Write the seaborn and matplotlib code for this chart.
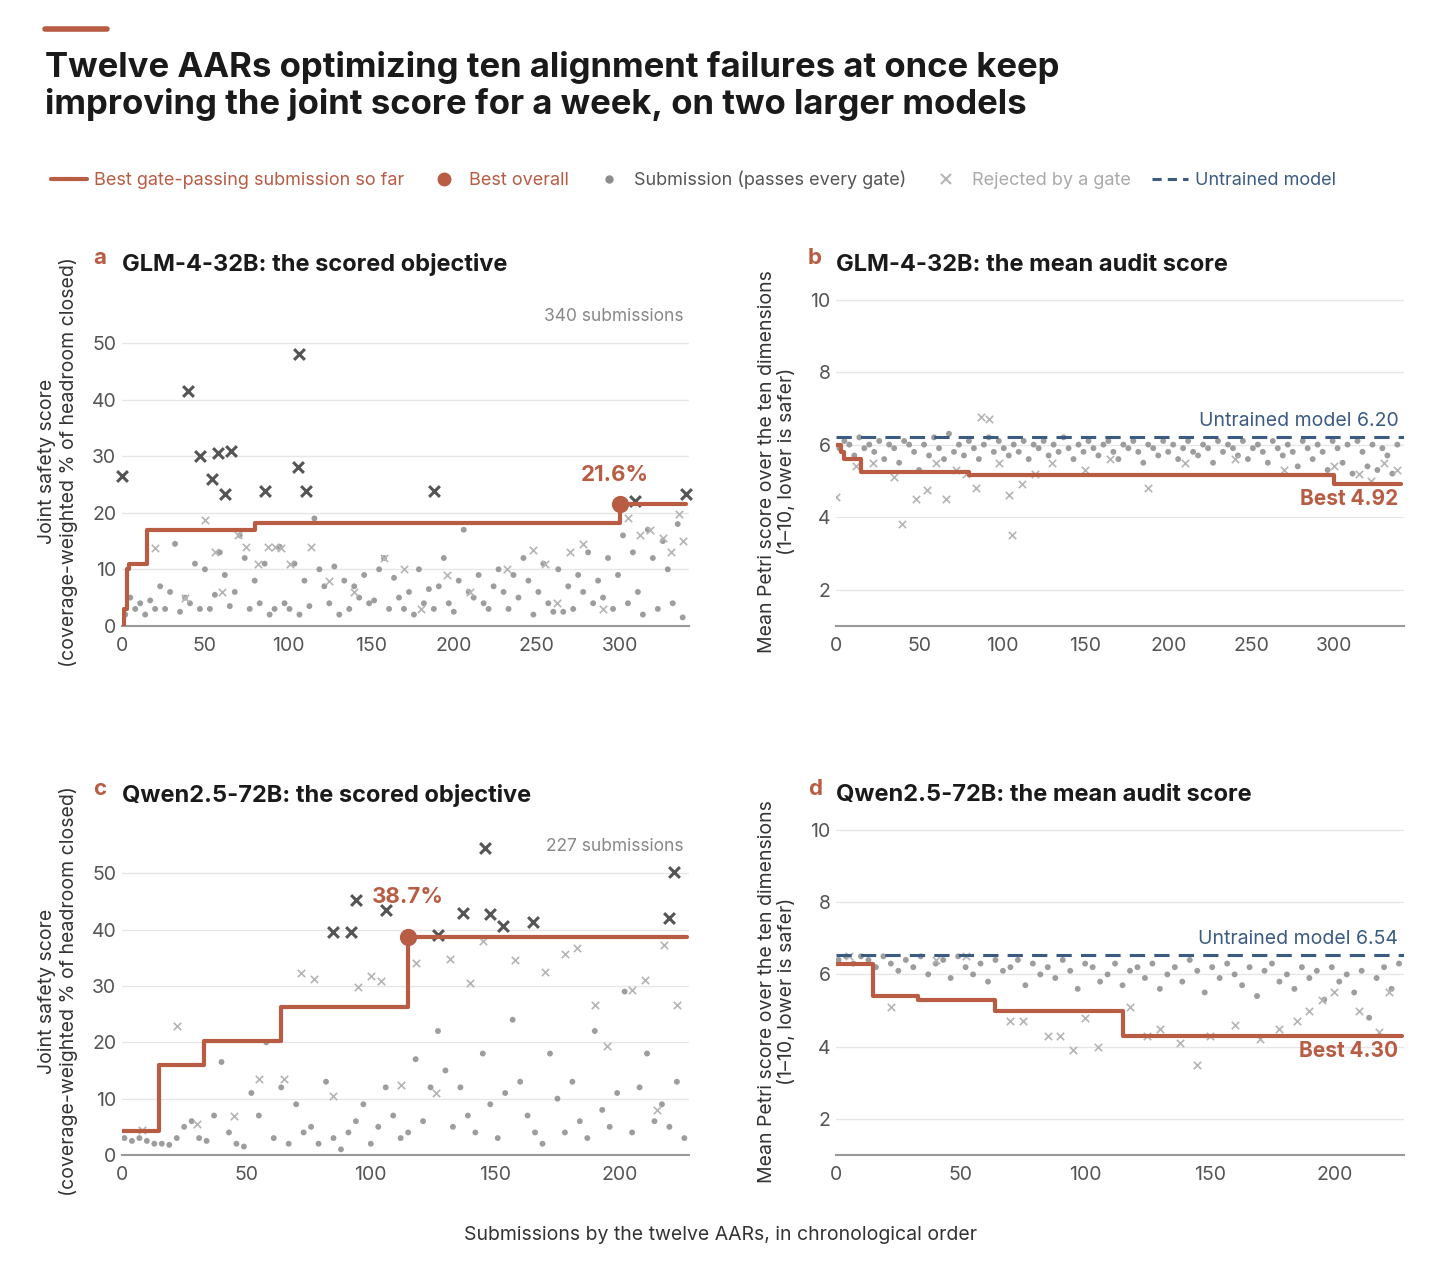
import numpy as np
import pandas as pd
import matplotlib.pyplot as plt
import seaborn as sns
from matplotlib.lines import Line2D

sns.set_theme(style="white")
plt.rcParams['font.family'] = ['Inter', 'DejaVu Sans']

RED = "#b85c44"; BLUE = "#3b5b82"; DOT = "#8c8c8c"; LX = "#b5b5b5"; DX = "#555555"

# ---------------- data ----------------
a_step_x = [0, 1, 3, 4, 15, 80, 300, 340]
a_step_y = [0, 3, 10, 11, 17, 18.2, 21.6, 21.6]
b_step_x = [0, 3, 5, 15, 80, 300, 340]
b_step_y = [6.0, 5.8, 5.6, 5.25, 5.15, 4.92, 4.92]
c_step_x = [0, 15, 33, 64, 115, 227]
c_step_y = [4.2, 16.0, 20.2, 26.2, 38.7, 38.7]
d_step_x = [0, 15, 33, 64, 115, 227]
d_step_y = [6.3, 5.4, 5.3, 5.0, 4.3, 4.3]

a_best = (300, 21.6); c_best = (115, 38.7)

a_dark_x = [0, 40, 47, 54, 58, 62, 66, 86, 106, 107, 111, 188, 309, 340]
a_dark_y = [26.5, 41.5, 30, 26, 30.5, 23.3, 31, 23.8, 28, 48, 23.8, 23.8, 22, 23.3]
c_dark_x = [85, 92, 94, 106, 127, 137, 146, 148, 153, 165, 220, 222]
c_dark_y = [39.5, 39.5, 45.3, 43.5, 39, 43, 54.5, 42.8, 40.7, 41.3, 42, 50.3]

a_pass_x = list(range(2, 340, 3))
a_pass_y = [2, 5, 3, 4, 2, 4.5, 3, 7, 3, 6, 14.5, 2.5, 5, 4, 11, 3, 10, 3, 5.5, 13, 9, 3.5, 6, 16, 12, 3, 8, 4, 11, 2, 3, 14, 4, 3, 11, 2, 8, 3.5, 19, 10, 7, 4, 10.5, 2, 8, 3, 7, 5, 9, 4, 4.5, 10, 12, 3, 8.5, 5, 3, 6, 2, 10, 4, 6.5, 3, 7, 12, 4, 2.5, 8, 17, 6, 5, 9, 4, 3, 7, 10, 6, 3, 9, 5, 12, 8, 2, 6, 11, 4, 2.5, 10, 2.5, 7, 3, 9, 6, 13, 4, 8, 5, 12, 3, 9, 16, 4, 13, 6, 2, 17, 12, 3, 15, 10, 4, 18, 1.5]
a_rej_x = [20, 38, 50, 56, 60, 70, 75, 82, 88, 92, 96, 101, 114, 125, 140, 158, 170, 180, 196, 210, 232, 248, 255, 262, 270, 278, 290, 305, 312, 318, 326, 331, 336, 338]
a_rej_y = [13.8, 5, 18.8, 13, 6, 16, 14, 11, 14, 14, 13.8, 11, 14, 8, 6, 12, 10, 3, 9, 6, 10, 13.5, 11, 4, 13, 14.5, 3, 19, 16, 17, 15.5, 13, 19.8, 15]

b_pass_x = a_pass_x
b_pass_y = [5.9, 6.1, 6.0, 5.7, 6.2, 5.9, 6.0, 5.8, 6.1, 5.6, 6.0, 5.9, 5.5, 6.1, 6.0, 5.8, 5.3, 6.0, 5.7, 6.2, 5.9, 5.6, 6.3, 5.8, 6.0, 5.7, 6.1, 5.9, 5.6, 6.0, 6.2, 5.8, 6.1, 5.9, 5.7, 6.0, 5.8, 6.1, 5.6, 6.0, 5.9, 6.1, 5.7, 6.0, 5.8, 6.2, 5.9, 5.6, 6.0, 5.8, 6.1, 5.9, 5.7, 6.0, 6.1, 5.8, 5.6, 6.0, 5.9, 6.1, 5.8, 5.5, 6.0, 5.9, 5.7, 6.1, 5.8, 6.0, 5.6, 5.9, 6.1, 5.8, 5.7, 6.0, 5.9, 5.5, 6.1, 5.8, 6.0, 5.9, 5.7, 6.1, 5.6, 5.9, 6.0, 5.8, 5.5, 6.1, 5.9, 5.7, 6.0, 5.8, 5.4, 6.1, 5.9, 5.6, 6.0, 5.8, 5.3, 6.1, 5.9, 5.5, 6.0, 5.2, 6.1, 5.8, 5.4, 6.0, 5.3, 5.9, 5.7, 5.2, 6.0]
b_rej_x = [0, 12, 22, 35, 40, 48, 55, 60, 66, 72, 78, 84, 87, 92, 98, 104, 106, 112, 120, 130, 150, 165, 188, 210, 240, 270, 300, 315, 322, 330, 338]
b_rej_y = [4.55, 5.4, 5.5, 5.1, 3.8, 4.5, 4.75, 5.5, 4.5, 5.3, 5.2, 4.8, 6.75, 6.7, 5.5, 4.6, 3.5, 4.9, 5.2, 5.5, 5.3, 5.6, 4.8, 5.5, 5.6, 5.3, 5.4, 5.2, 5.0, 5.5, 5.3]

c_pass_x = list(range(1, 228, 3))
c_pass_y = [3, 2.5, 3, 2.5, 2, 2, 1.8, 3, 5, 6, 3, 2.5, 7, 16.5, 4, 2, 1.5, 11, 7, 20, 3, 12, 2, 9, 4, 5, 2, 13, 3, 1, 4, 6, 9, 2, 5, 12, 7, 3, 4, 17, 6, 12, 22, 15, 5, 12, 7, 4, 18, 9, 3, 11, 24, 13, 7, 4, 2, 18, 10, 4, 13, 6, 3, 22, 8, 5, 11, 29, 4, 12, 18, 6, 9, 5, 13, 3]
c_rej_x = [8, 22, 30, 45, 55, 65, 72, 77, 85, 95, 100, 104, 112, 118, 126, 132, 140, 145, 158, 170, 178, 183, 190, 195, 205, 210, 215, 218, 223]
c_rej_y = [4.5, 22.8, 5.5, 7, 13.5, 13.5, 32.3, 31.2, 10.5, 29.8, 31.7, 30.8, 12.5, 34, 11, 34.8, 30.5, 38, 34.6, 32.5, 35.6, 36.8, 26.6, 19.3, 29.2, 31, 8, 37.3, 26.7]

d_pass_x = c_pass_x
d_pass_y = [6.4, 6.5, 6.3, 6.5, 6.4, 6.2, 6.5, 6.3, 6.1, 6.4, 6.2, 6.5, 6.0, 6.3, 6.4, 5.9, 6.5, 6.2, 6.0, 6.3, 5.8, 6.4, 6.1, 6.2, 6.4, 5.7, 6.3, 6.0, 6.2, 5.9, 6.4, 6.1, 5.6, 6.3, 6.2, 5.8, 6.0, 6.3, 5.7, 6.1, 6.2, 5.9, 6.3, 5.6, 6.0, 6.2, 5.8, 6.4, 6.1, 5.5, 6.2, 5.9, 6.3, 6.0, 5.7, 6.2, 5.4, 6.1, 6.3, 5.8, 6.0, 5.6, 6.2, 5.9, 6.1, 5.3, 6.2, 5.8, 6.0, 5.5, 6.1, 4.8, 5.9, 6.2, 5.6, 6.3]
d_rej_x = [5, 22, 40, 52, 70, 75, 85, 90, 95, 100, 105, 118, 125, 130, 138, 145, 150, 160, 170, 178, 185, 190, 195, 200, 210, 218, 222]
d_rej_y = [6.5, 5.1, 6.4, 6.5, 4.7, 4.7, 4.3, 4.3, 3.9, 4.8, 4.0, 5.1, 4.3, 4.5, 4.1, 3.5, 4.3, 4.6, 4.2, 4.5, 4.7, 5.0, 5.3, 5.5, 5.0, 4.4, 5.5]

untrained_b = 6.20; untrained_d = 6.54
counts = ["340 submissions", "227 submissions"]

# ---------------- figure ----------------
fig = plt.figure(figsize=(14.4, 12.67), dpi=100)
pos = {"a": [0.0847, 0.506, 0.394, 0.259], "b": [0.5806, 0.506, 0.3944, 0.259],
       "c": [0.0847, 0.0884, 0.394, 0.258], "d": [0.5806, 0.0884, 0.3944, 0.258]}

def style(ax, xlim, ylim, yticks):
    ax.set_xlim(*xlim); ax.set_ylim(*ylim); ax.set_yticks(yticks)
    for s in ["left", "right", "top"]:
        ax.spines[s].set_visible(False)
    ax.spines["bottom"].set_color("#999999"); ax.spines["bottom"].set_linewidth(1.5)
    ax.grid(axis="y", color="#e6e6e6", lw=1); ax.set_axisbelow(True)
    ax.tick_params(axis="both", labelsize=14, colors="#555555", length=0, pad=4)
    ax.tick_params(axis="x", length=4, color="#999999")
    ax.set_xlabel(""); ax.set_ylabel("")

def scatter(ax, px, py, rx, ry):
    sns.scatterplot(x=px, y=py, ax=ax, color=DOT, s=18, edgecolor="none", alpha=0.85, zorder=2)
    sns.scatterplot(x=rx, y=ry, ax=ax, color=LX, marker="x", s=28, linewidth=1.2, zorder=2)

def step(ax, xs, ys):
    sns.lineplot(x=xs, y=ys, ax=ax, drawstyle="steps-post", color=RED, lw=3, estimator=None, sort=False, zorder=4)

def header(ax, letter, title):
    ax.text(-0.05, 1.12, letter, transform=ax.transAxes, color=RED, fontsize=16, fontweight="bold", va="center")
    ax.text(0.0, 1.1, title, transform=ax.transAxes, color="#1a1a1a", fontsize=17, fontweight="bold", va="center")

ylab_l = "Joint safety score\n(coverage-weighted % of headroom closed)"
ylab_r = "Mean Petri score over the ten dimensions\n(1–10, lower is safer)"

# a
ax = fig.add_axes(pos["a"])
scatter(ax, a_pass_x, a_pass_y, a_rej_x, a_rej_y)
sns.scatterplot(x=a_dark_x, y=a_dark_y, ax=ax, color=DX, marker="x", s=60, linewidth=2.2, zorder=3, clip_on=False)
step(ax, a_step_x, a_step_y)
ax.scatter(*a_best, s=130, color=RED, zorder=5)
ax.text(a_best[0] - 3, a_best[1] + 4, "21.6%", color=RED, fontsize=16, fontweight="bold", ha="center")
ax.text(0.99, 0.97, counts[0], transform=ax.transAxes, ha="right", va="top", color="#888888", fontsize=12.5)
style(ax, (0, 342), (0, 58), [0, 10, 20, 30, 40, 50])
ax.set_xticks([0, 50, 100, 150, 200, 250, 300])
ax.set_ylabel(ylab_l, fontsize=14, color="#333333", labelpad=10)
header(ax, "a", "GLM-4-32B: the scored objective")

# b
ax = fig.add_axes(pos["b"])
scatter(ax, b_pass_x, b_pass_y, b_rej_x, b_rej_y)
ax.axhline(untrained_b, color=BLUE, lw=2.2, ls=(0, (5, 3)), zorder=3)
step(ax, b_step_x, b_step_y)
ax.text(0.99, untrained_b + 0.3, f"Untrained model {untrained_b:.2f}", transform=ax.get_yaxis_transform(), ha="right", color=BLUE, fontsize=14)
ax.text(0.99, b_step_y[-1] - 0.15, f"Best {b_step_y[-1]:.2f}", transform=ax.get_yaxis_transform(), ha="right", va="top", color=RED, fontsize=15, fontweight="bold")
style(ax, (0, 342), (1, 10.05), [2, 4, 6, 8, 10])
ax.set_xticks([0, 50, 100, 150, 200, 250, 300])
ax.set_ylabel(ylab_r, fontsize=14, color="#333333", labelpad=10)
header(ax, "b", "GLM-4-32B: the mean audit score")

# c
ax = fig.add_axes(pos["c"])
scatter(ax, c_pass_x, c_pass_y, c_rej_x, c_rej_y)
sns.scatterplot(x=c_dark_x, y=c_dark_y, ax=ax, color=DX, marker="x", s=60, linewidth=2.2, zorder=3)
step(ax, c_step_x, c_step_y)
ax.scatter(*c_best, s=130, color=RED, zorder=5)
ax.text(c_best[0], c_best[1] + 6, "38.7%", color=RED, fontsize=16, fontweight="bold", ha="center")
ax.text(0.99, 0.97, counts[1], transform=ax.transAxes, ha="right", va="top", color="#888888", fontsize=12.5)
style(ax, (0, 228), (0, 58), [0, 10, 20, 30, 40, 50])
ax.set_xticks([0, 50, 100, 150, 200])
ax.set_ylabel(ylab_l, fontsize=14, color="#333333", labelpad=10)
header(ax, "c", "Qwen2.5-72B: the scored objective")

# d
ax = fig.add_axes(pos["d"])
scatter(ax, d_pass_x, d_pass_y, d_rej_x, d_rej_y)
ax.axhline(untrained_d, color=BLUE, lw=2.2, ls=(0, (5, 3)), zorder=3)
step(ax, d_step_x, d_step_y)
ax.text(0.99, untrained_d + 0.3, f"Untrained model {untrained_d:.2f}", transform=ax.get_yaxis_transform(), ha="right", color=BLUE, fontsize=14)
ax.text(0.99, d_step_y[-1] - 0.15, f"Best {d_step_y[-1]:.2f}", transform=ax.get_yaxis_transform(), ha="right", va="top", color=RED, fontsize=15, fontweight="bold")
style(ax, (0, 228), (1, 10.05), [2, 4, 6, 8, 10])
ax.set_xticks([0, 50, 100, 150, 200])
ax.set_ylabel(ylab_r, fontsize=14, color="#333333", labelpad=10)
header(ax, "d", "Qwen2.5-72B: the mean audit score")

fig.text(0.5, 0.018, "Submissions by the twelve AARs, in chronological order", ha="center", va="bottom", fontsize=14, color="#333333")

# title
fig.add_artist(Line2D([0.031, 0.074], [0.977, 0.977], color=RED, lw=4, transform=fig.transFigure))
fig.text(0.031, 0.96, "Twelve AARs optimizing ten alignment failures at once keep\nimproving the joint score for a week, on two larger models",
         fontsize=25, fontweight="bold", color="#1a1a1a", va="top", linespacing=1.15)

handles = [Line2D([], [], color=RED, lw=3),
           Line2D([], [], color=RED, marker="o", ls="none", ms=9),
           Line2D([], [], color=DOT, marker="o", ls="none", ms=5),
           Line2D([], [], color=LX, marker="x", ls="none", ms=7, mew=1.5),
           Line2D([], [], color=BLUE, lw=2.2, ls=(0, (3, 2)))]
labels = ["Best gate-passing submission so far", "Best overall", "Submission (passes every gate)", "Rejected by a gate", "Untrained model"]
leg = fig.legend(handles, labels, loc="center left", bbox_to_anchor=(0.024, 0.858), ncol=5, frameon=False,
                 fontsize=13, handlelength=2, columnspacing=1.2, handletextpad=0.4)
for t, c in zip(leg.get_texts(), [RED, RED, "#555555", "#aaaaaa", BLUE]):
    t.set_color(c)

fig.savefig("out.png", dpi=100)
